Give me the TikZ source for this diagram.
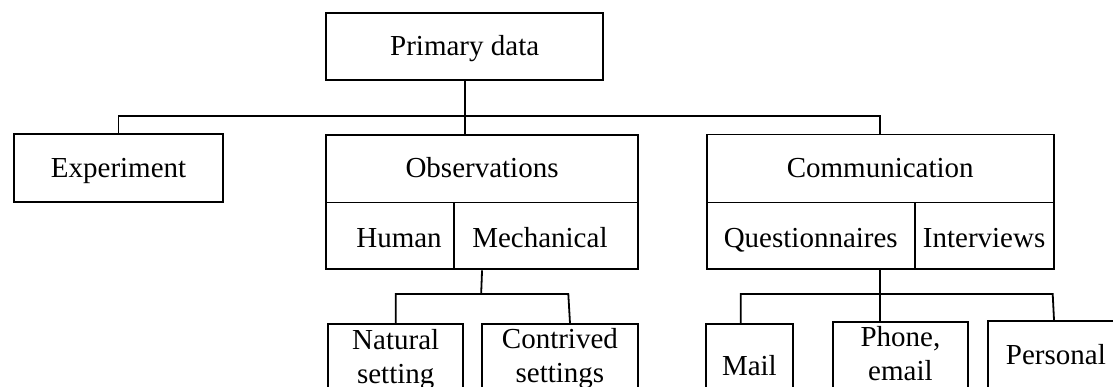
\documentclass[tikz,border=0pt]{standalone}
\usepackage{fontspec}
\setmainfont{Liberation Serif}
\begin{document}
\begin{tikzpicture}[x=1pt,y=-1pt,
  box/.style={draw, line width=1.8pt, inner sep=0pt, anchor=north west,
    align=center, font=\fontsize{29}{34}\selectfont},
  link/.style={line width=1.8pt}]
\useasboundingbox (0,0) rectangle (1113,387);
\clip (0,0) rectangle (1113,387);

% top level
\node[box, minimum width=277pt, text height=42.7pt, text depth=24.3pt] (prim) at (325.3,12.3) {Primary data};

% second level
\node[box, minimum width=208.7pt, text height=43.2pt, text depth=24.5pt] (exp) at (13.3,133.3) {Experiment};
\node[box, minimum width=311.7pt, text height=42.5pt, text depth=25.2pt] (obs) at (325.3,134) {Observations};
\node[box, minimum width=127.7pt, text height=45pt, text depth=21.8pt] (human) at (325.3,201.7) {\hspace*{18pt}Human};
\node[box, minimum width=184pt, text height=45pt, text depth=21.8pt] (mech) at (453,201.7) {Mechanical\hspace*{12pt}};
\node[box, minimum width=346.7pt, text height=42.8pt, text depth=25.2pt] (comm) at (706,133.7) {Communication};
\node[box, minimum width=207.7pt, text height=45pt, text depth=21.8pt] (quest) at (706,201.7) {Questionnaires};
\node[box, minimum width=139pt, text height=45pt, text depth=21.8pt] (intv) at (913.7,201.7) {Interviews};

% third level (two-line boxes: text height runs to the last baseline)
\node[box, minimum width=135pt, text height=59.7pt, text depth=40pt] (nat) at (327.3,323.3) {Natural\\setting};
\node[box, minimum width=156pt, text height=58.7pt, text depth=40pt] (con) at (481,323.3) {Contrived\\settings};
\node[box, minimum width=87.6pt, text height=51.7pt, text depth=40pt] (mail) at (704.7,323.3) {Mail};
\node[box, minimum width=134.4pt, text height=59.3pt, text depth=40pt] (phone) at (832.3,320.7) {Phone,\\email};
\node[box, minimum width=135.4pt, text height=43.3pt, text depth=50pt] (pers) at (987.3,320) {Personal};

% bus points
\coordinate (b1) at (463.8,116);
\coordinate (b2) at (481.15,294);
\coordinate (c2) at (568.3,294);
\coordinate (c2b) at (570,323.3);
\coordinate (m1) at (740.7,294);
\coordinate (p1) at (1052.7,294);
\coordinate (p2) at (1054,320);

% connectors
\draw[link] (prim.south) -- (prim.south |- obs.north);
\draw[link] (exp.north) |- (b1) -| (comm.north);
\draw[link] (obs.south |- mech.south) -- (b2);
\draw[link] (nat.north) |- (c2) -- (c2b);
\draw[link] (comm.south |- quest.south) -- (comm.south |- phone.north);
\draw[link] (m1 |- mail.north) -- (m1) -- (p1) -- (p2);
\end{tikzpicture}
\end{document}
